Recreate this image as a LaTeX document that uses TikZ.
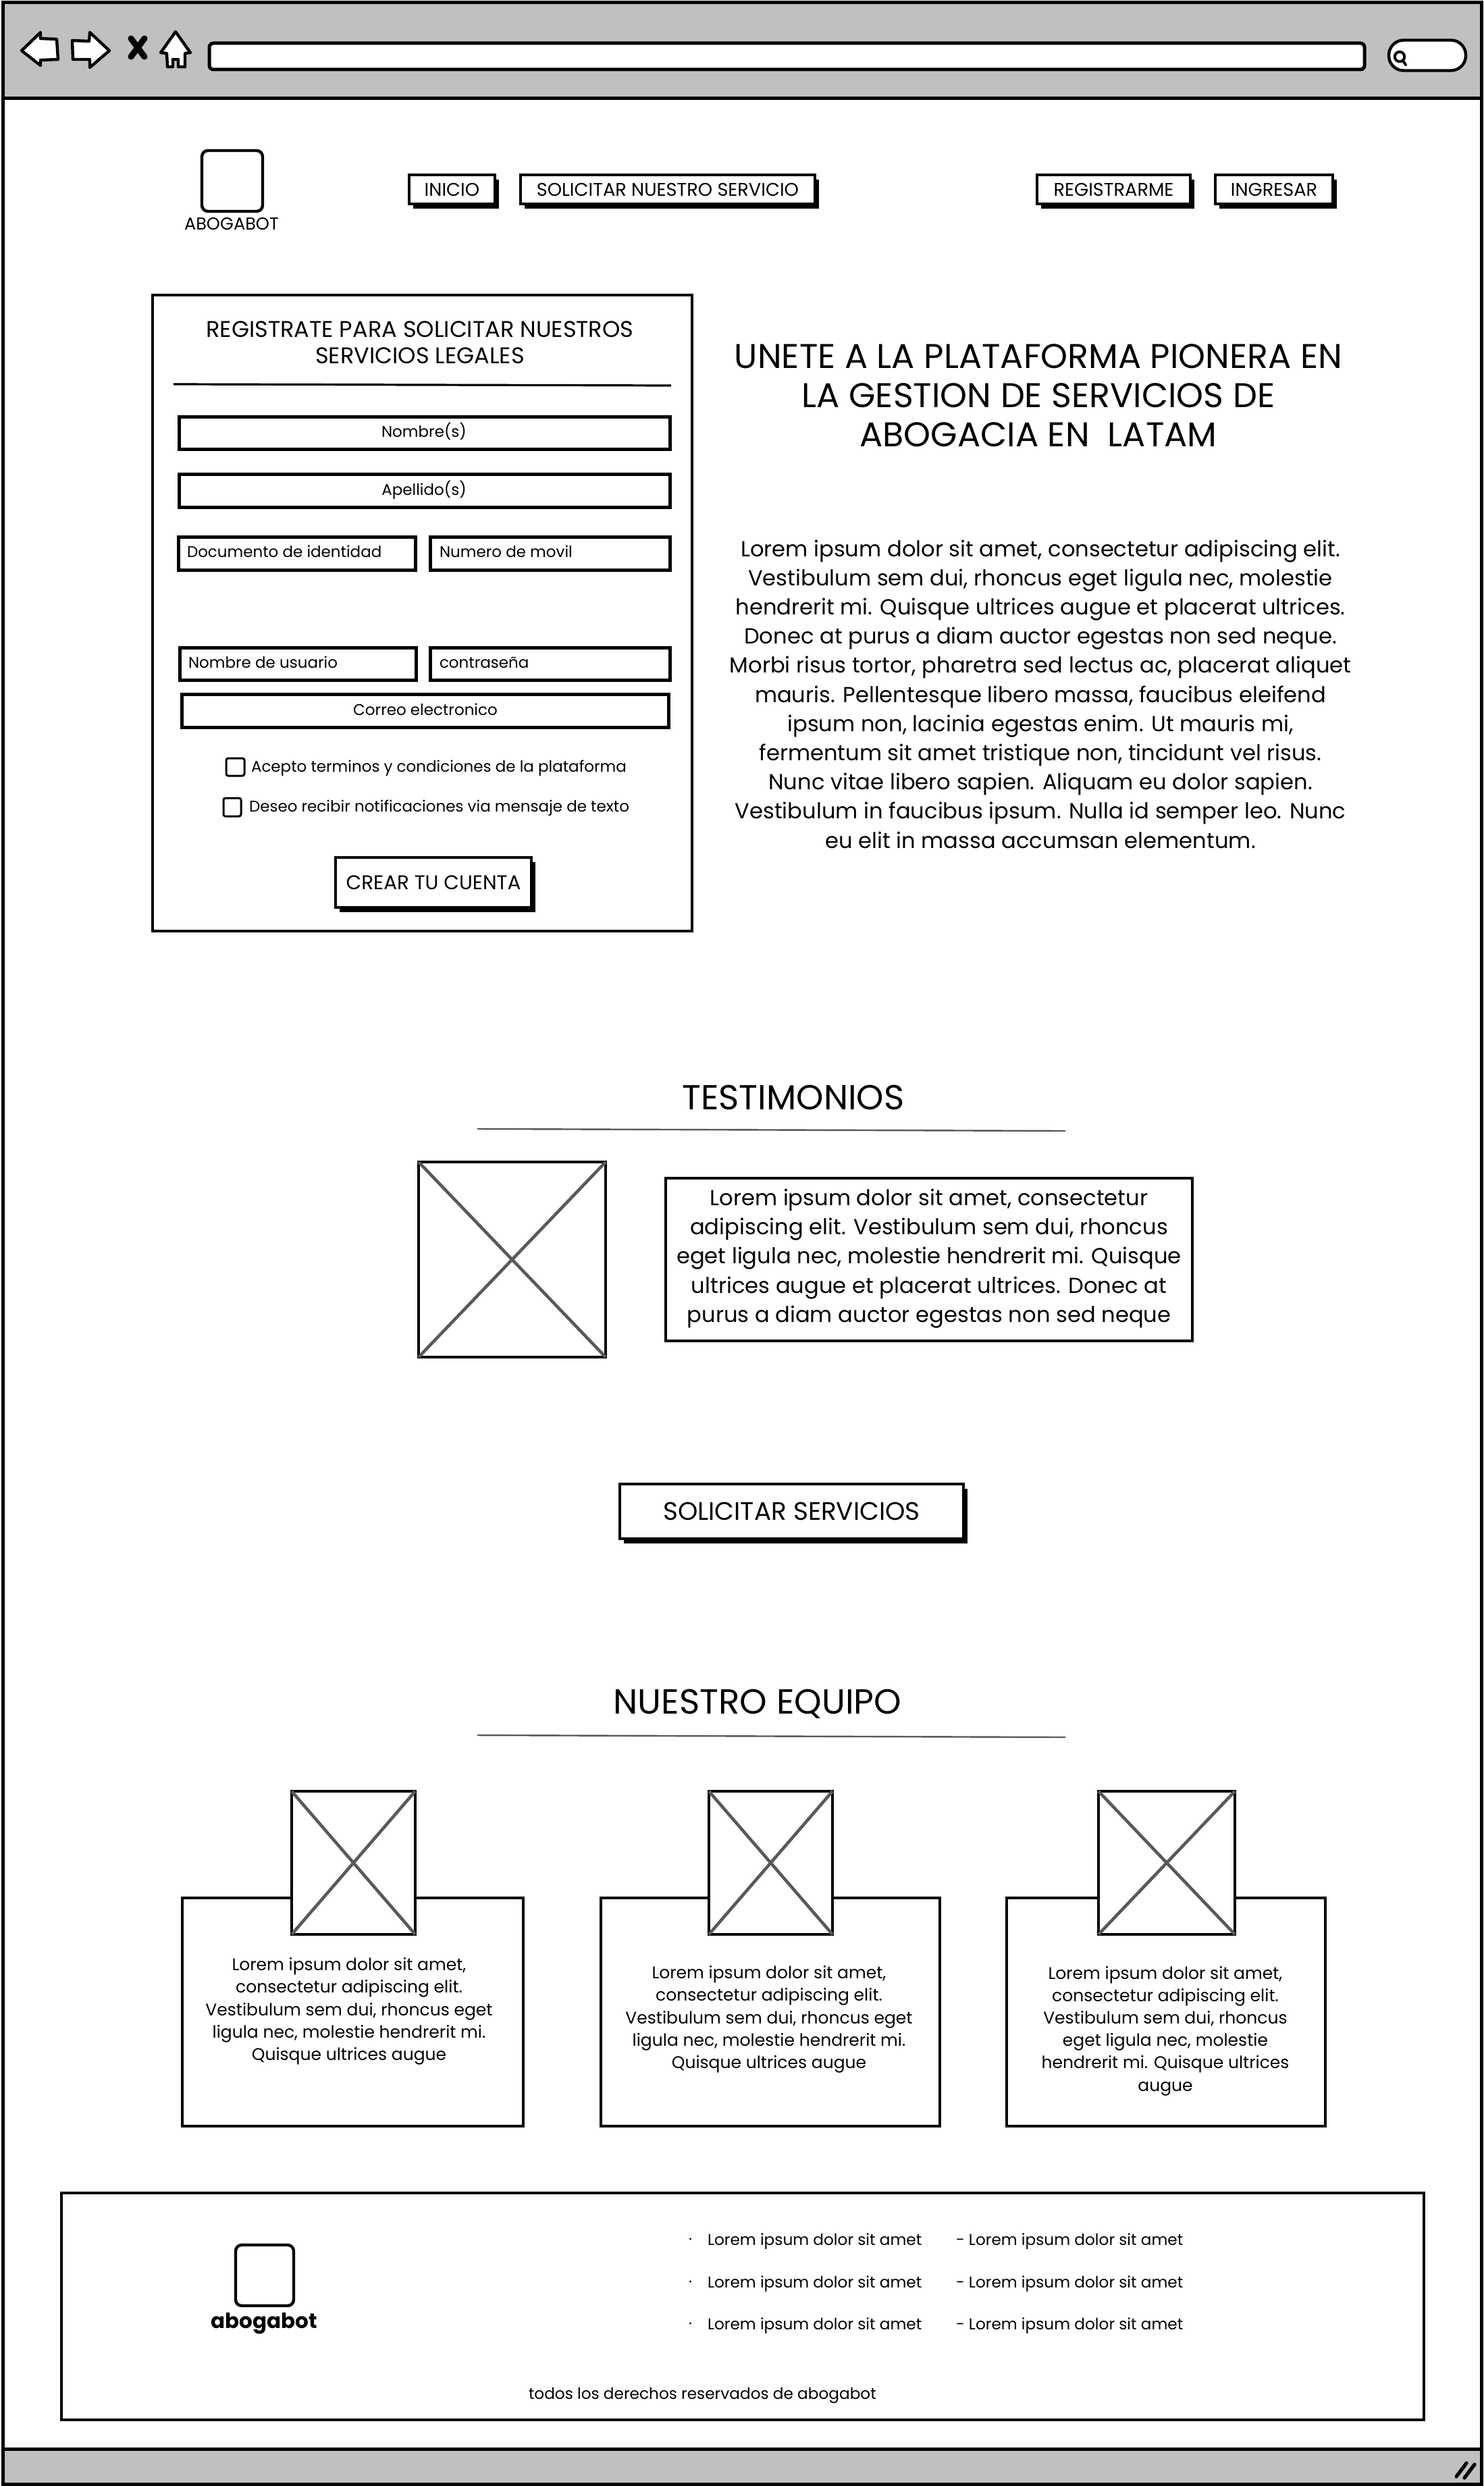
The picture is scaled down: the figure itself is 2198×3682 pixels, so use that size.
\documentclass[tikz,border=0pt]{standalone}
\usepackage{fontspec}
\setmainfont{Poppins}
\usetikzlibrary{shadows}
\newcommand{\fpx}[2]{\fontsize{#1}{#2}\selectfont}
\definecolor{barfill}{HTML}{C0C0C0}
\tikzset{
 x=0.5pt,y=-0.5pt,
 sk/.style={draw=black,line width=2.2pt,fill=white,inner sep=0pt,outer sep=0pt,align=center},
 field/.style={sk,line width=2.5pt},
 btn/.style={sk,general shadow={fill=black,shadow xshift=2.8pt,shadow yshift=-3.6pt}},
 panel/.style={sk},
 check/.style={sk,line width=1.5pt,rounded corners=1.5pt},
 logobox/.style={draw=black,line width=2.2pt,fill=white,rounded corners=4.5pt,inner sep=0pt,outer sep=0pt},
 pict/.style={draw=black,line width=2.2pt,fill=white,inner sep=0pt,outer sep=0pt},
 cross/.style={draw=black!65,line width=2.3pt},
 bar/.style={draw=black,line width=2.5pt,fill=barfill,inner sep=0pt,outer sep=0pt},
 icon/.style={draw=black,line width=2.2pt,fill=white,line join=round},
 rulethin/.style={draw=black!65,line width=1.2pt},
 rulethick/.style={draw=black,line width=1.6pt},
 txt/.style={inner sep=0pt,outer sep=0pt,align=center,text=black},
 ltxt/.style={inner sep=0pt,outer sep=0pt,anchor=west,text=black},
}
% corner-to-corner node: [style] name x1 y1 x2 y2 text
\newcommand{\Node}[7][sk]{\node[#1,minimum width={((#5)-(#3))*0.5pt},minimum height={((#6)-(#4))*0.5pt}] (#2) at ({((#3)+(#5))/2},{((#4)+(#6))/2}) {#7};}
\begin{document}
\begin{tikzpicture}
\useasboundingbox (0,0) rectangle (2198,3682);
% window
\Node[sk,line width=2.5pt]{win}{4}{4}{2194}{3679}{}
\Node[bar]{head}{4}{4}{2194}{146}{}
\Node[bar]{status}{4}{3627}{2194}{3679}{}
% toolbar icons
\draw[icon] (32,75) -- (60,48) -- (60,57) -- (84,58) -- (86,88) -- (60,89) -- (60,97) -- cycle;
\draw[icon] (162,75) -- (133,48) -- (132,61) -- (107,60) -- (108,88) -- (133,88) -- (133,100) -- cycle;
\draw[black,line width=4.5pt,line cap=round] (194,57) -- (214,84) (214,57) -- (194,84);
\draw[icon] (260,47) -- (282,78) -- (274,79) -- (274,99) -- (264,99) -- (264,88) -- (256,88) -- (256,99) -- (248,99) -- (247,79) -- (238,78) -- cycle;
\Node[field,rounded corners=3pt]{addr}{310}{64}{2021}{103}{}
\node[draw=black,line width=2.2pt,fill=white,rounded corners=11pt,minimum width=57pt,minimum height=22.5pt,inner sep=0pt] (srch) at (2114,82) {};
\draw[black,line width=2pt,line cap=round] (2073,84) circle[radius=3.6pt] (2078,90) -- (2082,96);
\draw[black,line width=2.6pt,line cap=round] (2157,3668) -- (2172,3648) (2169,3670) -- (2184,3650);
% header
\Node[logobox]{logo}{299}{223}{389}{313}{}
\node[txt,font=\fpx{12.8}{15}] (logot) at (343,332) {ABOGABOT};
\Node[btn]{inicio}{606}{259}{733}{302}{\fpx{13.6}{16}INICIO}
\Node[btn]{solic}{771}{259}{1207}{302}{\fpx{13.6}{16}SOLICITAR NUESTRO SERVICIO}
\Node[btn]{regis}{1536}{259}{1763}{302}{\fpx{13.6}{16}REGISTRARME}
\Node[btn]{ingre}{1800}{259}{1974}{302}{\fpx{13.6}{16}INGRESAR}
% form
\Node[panel]{form}{226}{437}{1025}{1379}{}
\node[txt,font=\fpx{16.8}{19.5}] (ftitle) at (622,507) {REGISTRATE PARA SOLICITAR NUESTROS\\SERVICIOS LEGALES};
\coordinate (fs1) at (257,569); \coordinate (fs2) at (994,571);
\draw[rulethick] (fs1) -- (fs2);
\Node[field]{fnom}{265}{617}{992}{665}{}
\node[txt,font=\fpx{11.5}{14}] (fnomt) at (628,639) {Nombre(s)};
\Node[field]{fape}{265}{702}{992}{751}{}
\node[txt,font=\fpx{11.5}{14}] (fapet) at (628,726) {Apellido(s)};
\Node[field]{fdoc}{264}{795}{615}{844}{}
\node[ltxt,font=\fpx{11.5}{14}] (fdoct) at (277,817) {Documento de identidad};
\Node[field]{fmov}{637}{795}{992}{844}{}
\node[ltxt,font=\fpx{11.5}{14}] (fmovt) at (651,817) {Numero de movil};
\Node[field]{fusu}{266}{959}{616}{1007}{}
\node[ltxt,font=\fpx{11.5}{14}] (fusut) at (279,981) {Nombre de usuario};
\Node[field]{fpas}{637}{959}{992}{1007}{}
\node[ltxt,font=\fpx{11.5}{14}] (fpast) at (651,981) {contraseña};
\Node[field]{fcor}{269}{1028}{990}{1077}{}
\node[txt,font=\fpx{11.5}{14}] (fcort) at (630,1051) {Correo electronico};
\Node[check]{c1}{335}{1123}{362}{1149}{}
\node[ltxt,font=\fpx{11.5}{14}] (c1t) at (372,1138) {Acepto terminos y condiciones de la plataforma};
\Node[check]{c2}{331}{1182}{357}{1209}{}
\node[ltxt,font=\fpx{11.5}{14}] (c2t) at (369,1197) {Deseo recibir notificaciones via mensaje de texto};
\Node[btn]{crear}{497}{1270}{787}{1344}{\fpx{14.7}{17}CREAR TU CUENTA}
% hero
\node[txt,font=\fpx{25.4}{29}] (hero) at (1538,586) {UNETE A LA PLATAFORMA PIONERA EN\\LA GESTION DE SERVICIOS DE\\ABOGACIA EN\ \ LATAM};
\node[txt,font=\fpx{16.1}{21.6}] (para) at (1541,1028) {Lorem ipsum dolor sit amet, consectetur adipiscing elit.\\Vestibulum sem dui, rhoncus eget ligula nec, molestie\\hendrerit mi. Quisque ultrices augue et placerat ultrices.\\Donec at purus a diam auctor egestas non sed neque.\\Morbi risus tortor, pharetra sed lectus ac, placerat aliquet\\mauris. Pellentesque libero massa, faucibus eleifend\\ipsum non, lacinia egestas enim. Ut mauris mi,\\fermentum sit amet tristique non, tincidunt vel risus.\\Nunc vitae libero sapien. Aliquam eu dolor sapien.\\Vestibulum in faucibus ipsum. Nulla id semper leo. Nunc\\eu elit in massa accumsan elementum.};
% testimonios
\node[txt,font=\fpx{25.7}{30}] (testt) at (1175,1626) {TESTIMONIOS};
\coordinate (tl1) at (707,1672); \coordinate (tl2) at (1578,1675);
\draw[rulethin] (tl1) -- (tl2);
\Node[pict]{tpic}{620}{1721}{897}{2010}{}
\draw[cross] (tpic.north west) -- (tpic.south east) (tpic.north east) -- (tpic.south west);
\Node[sk]{tbox}{986}{1745}{1766}{1986}{}
\node[txt,font=\fpx{16.1}{21.6}] (tboxt) at (1376,1864) {Lorem ipsum dolor sit amet, consectetur\\adipiscing elit. Vestibulum sem dui, rhoncus\\eget ligula nec, molestie hendrerit mi. Quisque\\ultrices augue et placerat ultrices. Donec at\\purus a diam auctor egestas non sed neque};
\Node[btn]{sserv}{918}{2198}{1427}{2279}{\fpx{18.7}{22}SOLICITAR SERVICIOS}
% equipo
\node[txt,font=\fpx{25.8}{30}] (eqt) at (1122,2524) {NUESTRO EQUIPO};
\coordinate (el1) at (707,2570); \coordinate (el2) at (1578,2573);
\draw[rulethin] (el1) -- (el2);
\Node[panel]{card1}{270}{2811}{775}{3149}{}
\Node[panel]{card2}{890}{2811}{1392}{3149}{}
\Node[panel]{card3}{1491}{2811}{1963}{3149}{}
\Node[pict]{p1}{432}{2653}{615}{2865}{}
\Node[pict]{p2}{1050}{2653}{1233}{2865}{}
\Node[pict]{p3}{1627}{2653}{1829}{2865}{}
\foreach \p in {p1,p2,p3}{\draw[cross] (\p.north west) -- (\p.south east) (\p.north east) -- (\p.south west);}
\node[txt,font=\fpx{12.5}{16.6}] (c1txt) at (517,2979) {Lorem ipsum dolor sit amet,\\consectetur adipiscing elit.\\Vestibulum sem dui, rhoncus eget\\ligula nec, molestie hendrerit mi.\\Quisque ultrices augue};
\node[txt,font=\fpx{12.5}{16.6}] (c2txt) at (1139,2991) {Lorem ipsum dolor sit amet,\\consectetur adipiscing elit.\\Vestibulum sem dui, rhoncus eget\\ligula nec, molestie hendrerit mi.\\Quisque ultrices augue};
\node[txt,font=\fpx{12.5}{16.6}] (c3txt) at (1726,3008) {Lorem ipsum dolor sit amet,\\consectetur adipiscing elit.\\Vestibulum sem dui, rhoncus\\eget ligula nec, molestie\\hendrerit mi. Quisque ultrices\\augue};
% footer
\Node[panel]{foot}{91}{3248}{2109}{3584}{}
\Node[logobox]{flogo}{349}{3325}{435}{3415}{}
\node[txt,font=\fpx{15.5}{19}\bfseries] (flogot) at (391,3441) {abogabot};
\foreach \i/\y in {1/3320,2/3383,3/3445}{
 \node[ltxt,font=\fpx{11.6}{14}] (la\i) at (1020,\y) {·};
 \node[ltxt,font=\fpx{11.6}{14}] (lb\i) at (1048,\y) {Lorem ipsum dolor sit amet};
 \node[ltxt,font=\fpx{11.6}{14}] (lc\i) at (1416,\y) {- Lorem ipsum dolor sit amet};
}
\node[ltxt,font=\fpx{11.6}{14}] (copy) at (783,3548) {todos los derechos reservados de abogabot};
\end{tikzpicture}
\end{document}
